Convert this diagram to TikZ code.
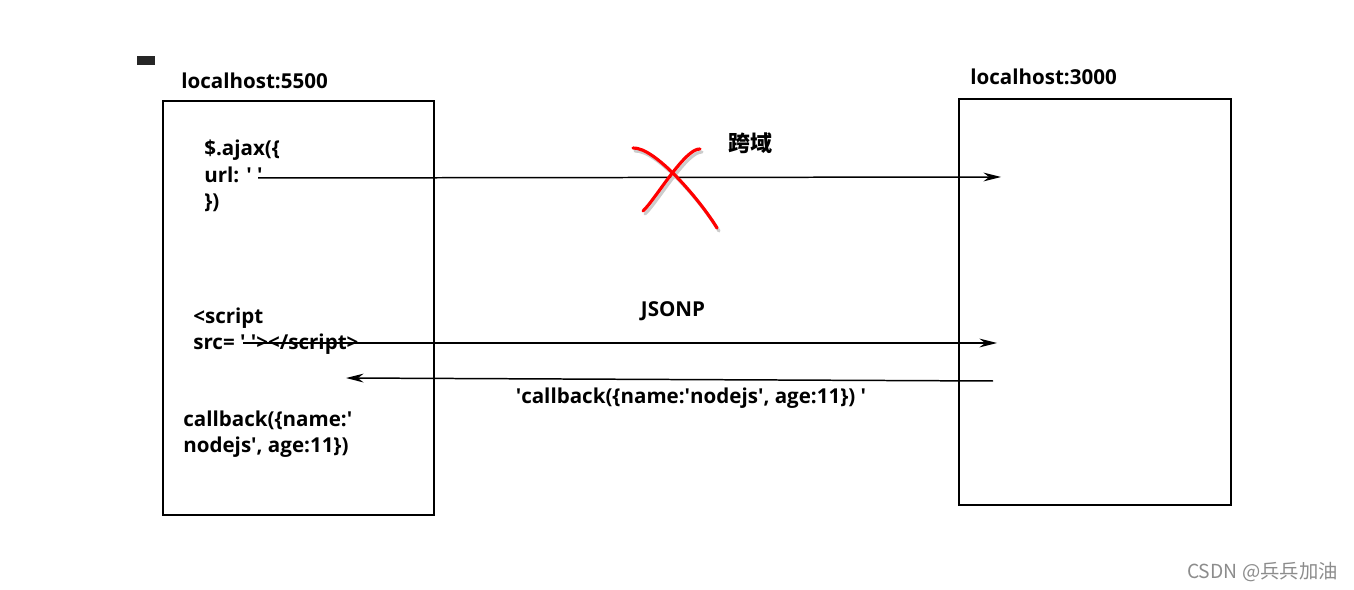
\documentclass[tikz,border=0pt]{standalone}
\usepackage{fontspec}
\setmainfont{Open Sans}[BoldFont={Open Sans Bold}]
\newfontfamily\cjk{Noto Sans CJK SC}
\usetikzlibrary{arrows.meta,positioning}
\newcommand{\sq}{\textquotesingle}

\begin{document}
\begin{tikzpicture}[
			x=0.02cm, y=-0.02cm,
			>={Stealth[length=10pt,width=5pt]},
			host/.style={
				draw,
				line width=1.1pt,
				minimum width=5.42cm,
				minimum height=8.28cm
			},
			hostlabel/.style={
				anchor=base west,
				inner sep=0pt,
				font=\bfseries\fontsize{11.7}{14}\selectfont
			},
			code/.style={
				anchor=base west,
				inner sep=0pt,
				align=left,
				font=\bfseries\fontsize{11.7}{15.3}\selectfont
			},
			msg/.style={
				anchor=base,
				inner sep=0pt,
				font=\bfseries\fontsize{11.7}{14}\selectfont
			},
			call/.style={->,line width=0.85pt},
			cross/.style={red,line width=1.8pt,line cap=round}
			]
			
			\useasboundingbox (0,0) rectangle (1354,590);
			\fill[black!85] (137,56) rectangle (155,65);
			
			% Hosts
			\node[host] (client) at (298.5,308) {};
			\node[host,minimum width=5.44cm,minimum height=8.12cm] (server) at (1095,302) {};
			\node[hostlabel] (clientlbl) at (181,89) {localhost:5500};
			\node[hostlabel] (serverlbl) at (970,85) {localhost:3000};
			
			% Code in the client (base = last line)
			\node[code] (ajax) at (204,209) {\$.ajax(\{\\url: \sq\ \sq\\\})};
			\node[code] (script) at (193,350) {<script\\src= \sq\ \sq></script>};
			\node[code] (cb) at (183,453) {callback(\{name:\sq\\nodejs\sq, age:11\})};
			
			% Anchor points of the calls
			\coordinate (ajaxout) at (258,178);
			\coordinate (ajaxin) at (1001,177);
			\coordinate (scriptout) at (243,343);
			\coordinate (scriptin) at (997,343);
			\coordinate (replyout) at (993,381);
			\coordinate (replyin) at (346,378);
			
			% Calls
			\draw[call] (ajaxout) -- (ajaxin);
			\draw[call] (scriptout) -- (scriptin);
			\draw[call] (replyout) -- (replyin);
			
			% Blocked
			\draw[cross,black!20] (635,151) .. controls (657,150) and (702,203) .. (719,231);
			\draw[cross,black!20] (702,152) .. controls (687,151) and (657,203) .. (645,214);
			\draw[cross] (633,148) .. controls (655,147) and (700,200) .. (717,228);
			\draw[cross] (700,149) .. controls (685,148) and (655,200) .. (643,211);
			\node[msg,font=\cjk\bfseries\fontsize{12.5}{14}\selectfont] (cors) at (750,152) {跨域};
			
			% Labels of the calls
			\node[msg] (jsonp) at (673,317) {JSONP};
			\node[msg] (reply) at (691,404) {\sq callback(\{name:\sq nodejs\sq, age:11\}) \sq};
			
			\node[anchor=base east,inner sep=0pt,text=black!45,font=\cjk\fontsize{11}{13}\selectfont] (mark) at (1338,578) {CSDN @兵兵加油};
			
		\end{tikzpicture}
\end{document}
